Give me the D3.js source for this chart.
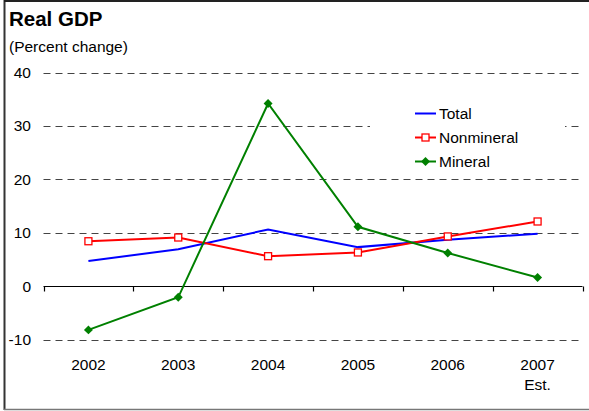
<!DOCTYPE html>
<html>
<head>
<meta charset="utf-8">
<script src="https://cdn.jsdelivr.net/npm/d3@7"></script>
<style>
  html, body { margin: 0; padding: 0; background: #fff; }
  svg { display: block; font-family: Arial, "Liberation Sans", sans-serif; }
</style>
</head>
<body>
<svg id="chart" width="589" height="411"></svg>
<script>
// Real GDP, percent change
const years = ["2002", "2003", "2004", "2005", "2006", "2007"];
const yearNotes = ["", "", "", "", "", "Est."];
const total = [4.7, 6.9, 10.6, 7.3, 8.7, 9.8];
const nonmineral = [8.4, 9.1, 5.6, 6.3, 9.3, 12.1];
const mineral = [-8.2, -2.1, 34.2, 11.1, 6.2, 1.6];
const yTicks = [-10, 0, 10, 20, 30, 40];

const series = [
  { name: "Total", values: total, color: "#0000ff", marker: null },
  { name: "Nonmineral", values: nonmineral, color: "#ff0000", marker: "square" },
  { name: "Mineral", values: mineral, color: "#008000", marker: "diamond" }
];

const svg = d3.select("#chart");
const W = 589;
const plot = { left: 43.5, right: 582.5, top: 72.5, bottom: 339.5 };

const x = d3.scaleBand().domain(years).range([plot.left, plot.right]);
const y = d3.scaleLinear().domain([-10, 40]).range([plot.bottom, plot.top]);
const cx = d => x(d) + x.bandwidth() / 2;

// frame (left, top, bottom edges)
svg.append("line").attr("x1", 4.5).attr("x2", 4.5).attr("y1", 0).attr("y2", 410)
  .attr("stroke", "#333").attr("stroke-width", 2);
svg.append("line").attr("x1", 4).attr("x2", W).attr("y1", 1).attr("y2", 1)
  .attr("stroke", "#222").attr("stroke-width", 2);
svg.append("line").attr("x1", 4).attr("x2", W).attr("y1", 409.5).attr("y2", 409.5)
  .attr("stroke", "#777").attr("stroke-width", 1.5);

// titles
svg.append("text").attr("x", 9).attr("y", 26).attr("font-size", 20.5)
  .attr("font-weight", "bold").attr("fill", "#000").text("Real GDP");
svg.append("text").attr("x", 9).attr("y", 52).attr("font-size", 15.5)
  .attr("fill", "#000").text("(Percent change)");

// dashed gridlines
svg.append("g").selectAll("line")
  .data(yTicks.filter(t => t !== 0))
  .join("line")
  .attr("x1", plot.left).attr("x2", plot.right)
  .attr("y1", d => Math.round(y(d)) + 0.5).attr("y2", d => Math.round(y(d)) + 0.5)
  .attr("stroke", "#444").attr("stroke-width", 1)
  .attr("stroke-dasharray", "7,5");

// y axis labels
svg.append("g").selectAll("text")
  .data(yTicks)
  .join("text")
  .attr("x", 31).attr("y", d => y(d))
  .attr("dy", "0.36em")
  .attr("text-anchor", "end")
  .attr("font-size", 15.5)
  .attr("fill", "#000")
  .text(d => d);

// zero line with category boundary ticks
const zy = Math.round(y(0)) + 0.5;
svg.append("line").attr("x1", plot.left).attr("x2", plot.right)
  .attr("y1", zy).attr("y2", zy).attr("stroke", "#000").attr("stroke-width", 1.2);
const boundaries = years.map(d => x(d)).concat([x(years[years.length - 1]) + x.bandwidth()]);
svg.append("g").selectAll("line")
  .data(boundaries)
  .join("line")
  .attr("x1", d => Math.round(d) + 0.5).attr("x2", d => Math.round(d) + 0.5)
  .attr("y1", zy).attr("y2", zy + 5)
  .attr("stroke", "#000").attr("stroke-width", 1.2);

// category labels
const xl = svg.append("g");
xl.selectAll("text.yr")
  .data(years)
  .join("text").attr("class", "yr")
  .attr("x", d => cx(d)).attr("y", 370)
  .attr("text-anchor", "middle").attr("font-size", 15.5).attr("fill", "#000")
  .text(d => d);
xl.selectAll("text.note")
  .data(years.map((d, i) => ({ d, note: yearNotes[i] })).filter(o => o.note))
  .join("text").attr("class", "note")
  .attr("x", o => cx(o.d)).attr("y", 390)
  .attr("text-anchor", "middle").attr("font-size", 15.5).attr("fill", "#000")
  .text(o => o.note);

// legend panel (white, hides the gridline behind it)
const legend = svg.append("g");
legend.append("rect").attr("x", 370).attr("y", 100).attr("width", 195).attr("height", 72)
  .attr("fill", "#fff");

// series lines and markers
const line = d3.line().x((v, i) => cx(years[i])).y(v => y(v));
const markerSize = 7;
function drawMarker(g, type, color, px, py) {
  if (type === "square") {
    g.append("rect")
      .attr("x", px - markerSize / 2).attr("y", py - markerSize / 2)
      .attr("width", markerSize).attr("height", markerSize)
      .attr("fill", "#fff").attr("stroke", color).attr("stroke-width", 1.3);
  } else if (type === "diamond") {
    g.append("path")
      .attr("d", d3.symbol(d3.symbolSquare, 40)())
      .attr("transform", `translate(${px},${py}) rotate(45)`)
      .attr("fill", color);
  }
}

series.forEach(s => {
  const g = svg.append("g");
  g.append("path").datum(s.values).attr("d", line)
    .attr("fill", "none").attr("stroke", s.color).attr("stroke-width", 2);
  if (s.marker) {
    s.values.forEach((v, i) => drawMarker(g, s.marker, s.color, cx(years[i]), y(v)));
  }
});

// legend entries
series.forEach((s, i) => {
  const ly = 113.5 + i * 24;
  legend.append("line").attr("x1", 415).attr("x2", 436).attr("y1", ly).attr("y2", ly)
    .attr("stroke", s.color).attr("stroke-width", 2);
  if (s.marker) drawMarker(legend, s.marker, s.color, 425.5, ly);
  legend.append("text").attr("x", 439).attr("y", ly).attr("dy", "0.36em")
    .attr("font-size", 15.5).attr("fill", "#000").text(s.name);
});
</script>
</body>
</html>
